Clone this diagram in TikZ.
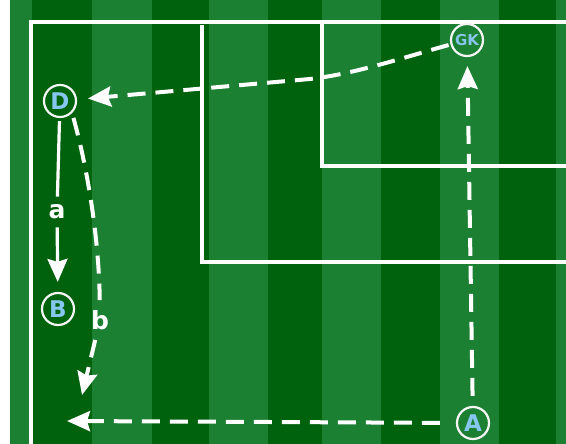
\documentclass[tikz,border=0pt]{standalone}
\usepackage{fontspec}
\setmainfont{DejaVu Sans}
\usetikzlibrary{calc,arrows.meta,positioning}
\definecolor{pitchdark}{RGB}{0,98,12}
\definecolor{pitchlight}{RGB}{28,128,50}
\definecolor{playerblue}{RGB}{135,198,238}
\tikzset{
  player/.style={circle,draw=white!92!gray,line width=2.2pt,minimum size=32pt,inner sep=0pt,
    text=playerblue,font=\bfseries\fontsize{23}{23}\selectfont},
  pitchline/.style={white,line width=3.8pt},
  pass/.style={white,line width=4pt,dash pattern=on 18pt off 10pt,->},
  run/.style={white,line width=3.2pt},
  tag/.style={text=white,font=\bfseries\fontsize{25}{25}\selectfont,inner sep=8pt},
  >={Stealth[length=23pt,width=20pt,inset=3pt]}
}
\begin{document}
\begin{tikzpicture}[x=1pt,y=-1pt]
  \useasboundingbox (0,0) rectangle (566,444);
  % 草地条纹
  \fill[white] (0,0) rectangle (10,444);
  \fill[pitchlight] (10,0) rectangle (566,444);
  \foreach \a/\b in {32/92,152/209,268/322,381/440,499/556}
    \fill[pitchdark] (\a,0) rectangle (\b,444);
  % 场地线
  \draw[pitchline] (31,446) -- (31,22) -- (568,22);
  \draw[pitchline] (202,25) -- (202,262) -- (568,262);
  \draw[pitchline] (322,22) -- (322,166) -- (568,166);
  % 球员
  \node[player] (D) at (60,101) {D};
  \node[player] (B) at (58,309) {B};
  \node[player,font=\bfseries\fontsize{15}{15}\selectfont] (GK) at (467,40) {GK};
  \node[player] (A) at (473,423) {A};
  % 标注
  \node[tag] (a) at (57,212) {a};
  \node[tag,inner sep=10pt] (b) at (100,320) {b};
  \coordinate (endA) at (67,421);
  \coordinate (endB) at (82,395);
  % 传球与跑动
  \draw[pass,shorten >=11pt,shorten <=2pt] (GK) .. controls (405,57) and (355,74) .. (310,79) -- (D);
  \draw[pass,shorten >=9pt,shorten <=10pt] (A) -- (GK);
  \draw[pass,shorten <=16pt] (A) -- (endA);
  \draw[run,shorten <=3pt] (D) -- (a);
  \draw[run,->,shorten >=10pt] (a) -- (B);
  \draw[pass,-,shorten <=5pt] (D.south east) .. controls (88,170) and (99,240) .. (b);
  \draw[pass] (b) -- (endB);
\end{tikzpicture}
\end{document}
